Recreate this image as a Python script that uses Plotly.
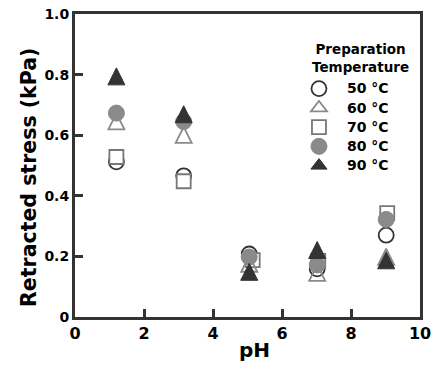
import plotly.graph_objects as go

ph = [1.2, 3.15, 5.05, 7.02, 9.02]
ph70 = [1.2, 3.15, 5.15, 7.05, 9.05]
labels = ["50 °C", "60 °C", "70 °C", "80 °C", "90 °C"]
s50 = [0.512, 0.466, 0.208, 0.159, 0.270]
s60 = [0.645, 0.600, 0.175, 0.145, 0.198]
s70 = [0.528, 0.448, 0.188, 0.185, 0.343]
s80 = [0.673, 0.645, 0.198, 0.172, 0.322]
s90 = [0.795, 0.670, 0.150, 0.222, 0.188]
x_ticks = [0, 2, 4, 6, 8, 10]
y_ticks = [0, 0.2, 0.4, 0.6, 0.8, 1.0]
y_ticktext = ["0", "0.2", "0.4", "0.6", "0.8", "1.0"]

FONT = "DejaVu Sans, Liberation Sans, Arial, sans-serif"
DARK = "#333333"
GRAY = "#8a8a8a"

# plot height in px (365 - 14 - 48); triangles are drawn as "arrow-up" (tip at the
# anchor), so they live on an overlay axis lifted by half a marker height
PLOT_H = 303.0
TRI_SIZE = 16.5
LIFT = (TRI_SIZE / 2) / PLOT_H

legend_styles = [
    dict(symbol="circle", color="white", line=dict(color=DARK, width=1.8), size=15),
    dict(symbol="triangle-up-open", color=GRAY, line=dict(color=GRAY, width=1.8), size=14),
    dict(symbol="square", color="white", line=dict(color="#777777", width=1.8), size=14),
    dict(symbol="circle", color=GRAY, line=dict(color=GRAY, width=1), size=16),
    dict(symbol="triangle-up", color=DARK, line=dict(color=DARK, width=1), size=14),
]
plot_styles = [
    legend_styles[0],
    dict(symbol="arrow-up-open", color=GRAY, line=dict(color=GRAY, width=1.8), size=TRI_SIZE - 0.5),
    legend_styles[2],
    legend_styles[3],
    dict(symbol="arrow-up", color=DARK, line=dict(color=DARK, width=1), size=TRI_SIZE + 0.5),
]
is_tri = [False, True, False, False, True]
series = [s50, s60, s70, s80, s90]
xs = [ph, ph, ph70, ph, ph]

fig = go.Figure()
for lab, x, s, ls, ps, tri in zip(labels, xs, series, legend_styles, plot_styles, is_tri):
    name = '<span style="font-size:14px">' + lab + '</span>'
    if tri:
        fig.add_trace(go.Scatter(x=[None], y=[None], mode="markers", name=name,
                                 marker=ls, showlegend=True))
        fig.add_trace(go.Scatter(x=x, y=s, mode="markers", name=lab, marker=ps,
                                 yaxis="y2", showlegend=False))
    else:
        fig.add_trace(go.Scatter(x=x, y=s, mode="markers", name=name, marker=ps))

axis_common = dict(showline=True, linecolor=DARK, linewidth=3, mirror=True,
                   ticks="inside", ticklen=8, tickwidth=3, tickcolor=DARK,
                   showgrid=False, zeroline=False, automargin=False,
                   ticklabeloverflow="allow")

fig.update_layout(
    width=431, height=365,
    margin=dict(l=75, r=11, t=14, b=48),
    plot_bgcolor="white", paper_bgcolor="white",
    font=dict(family=FONT, color="black"),
    xaxis=dict(range=[0, 10], tickvals=x_ticks,
               tickfont=dict(family=FONT, size=16, color="black", weight="bold"),
               **axis_common),
    yaxis=dict(range=[0, 1], tickvals=y_ticks, ticktext=y_ticktext,
               tickfont=dict(family=FONT, size=14, color="black", weight="bold"),
               **axis_common),
    yaxis2=dict(range=[0 - LIFT, 1 - LIFT], overlaying="y", visible=False,
                automargin=False),
    legend=dict(x=0.626, y=0.802, xanchor="left", yanchor="top",
                bgcolor="rgba(0,0,0,0)", tracegroupgap=0,
                font=dict(family=FONT, size=12.5, weight="bold"),
                itemwidth=46),
    showlegend=True,
    annotations=[
        dict(text="Preparation<br>Temperature", xref="paper", yref="paper",
             x=(360 - 75) / 345, y=0.856, xanchor="center", yanchor="middle",
             showarrow=False,
             font=dict(family=FONT, size=13.5, weight="bold", color="black")),
        dict(text="pH", xref="paper", yref="paper", x=0.52, y=-0.109,
             xanchor="center", yanchor="middle", showarrow=False,
             font=dict(family=FONT, size=20, weight="bold", color="black")),
        dict(text="Retracted stress (kPa)", xref="paper", yref="paper",
             x=-0.1333, y=0.459, xanchor="center", yanchor="middle",
             textangle=-90, showarrow=False,
             font=dict(family=FONT, size=20.5, weight="bold", color="black")),
    ],
)

fig.write_html("out.html")
